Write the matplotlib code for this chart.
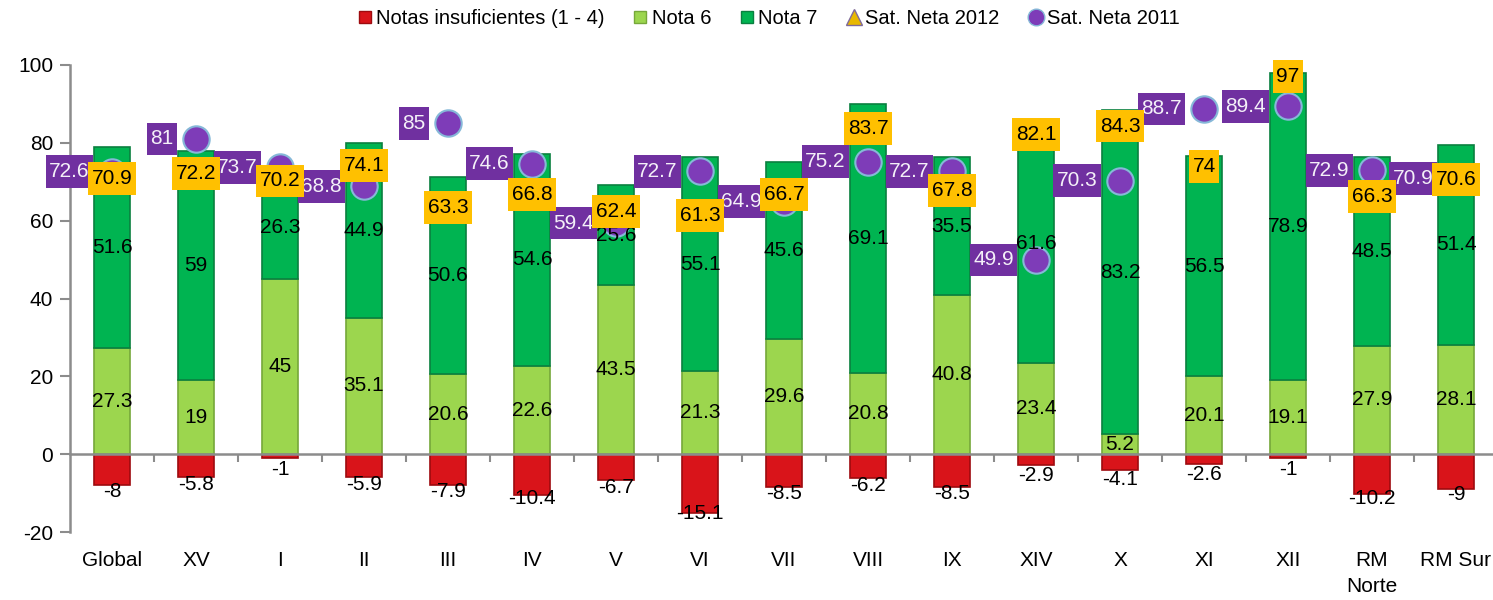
import matplotlib
matplotlib.use("Agg")
import matplotlib.pyplot as plt
from matplotlib import font_manager
from matplotlib.lines import Line2D
from matplotlib.path import Path
import numpy as np

# ---------------- data ----------------
categories = ["Global", "XV", "I", "II", "III", "IV", "V", "VI", "VII", "VIII",
              "IX", "XIV", "X", "XI", "XII", "RM\nNorte", "RM Sur"]
insuficientes = [-8, -5.8, -1, -5.9, -7.9, -10.4, -6.7, -15.1, -8.5, -6.2,
                 -8.5, -2.9, -4.1, -2.6, -1, -10.2, -9]
nota6 = [27.3, 19, 45, 35.1, 20.6, 22.6, 43.5, 21.3, 29.6, 20.8,
         40.8, 23.4, 5.2, 20.1, 19.1, 27.9, 28.1]
nota7 = [51.6, 59, 26.3, 44.9, 50.6, 54.6, 25.6, 55.1, 45.6, 69.1,
         35.5, 61.6, 83.2, 56.5, 78.9, 48.5, 51.4]
sat2012 = [70.9, 72.2, 70.2, 74.1, 63.3, 66.8, 62.4, 61.3, 66.7, 83.7,
           67.8, 82.1, 84.3, 74, 97, 66.3, 70.6]
sat2011 = [72.6, 81, 73.7, 68.8, 85, 74.6, 59.4, 72.7, 64.9, 75.2,
           72.7, 49.9, 70.3, 88.7, 89.4, 72.9, 70.9]
series_names = ["Notas insuficientes (1 - 4)", "Nota 6", "Nota 7",
                "Sat. Neta 2012", "Sat. Neta 2011"]

# ---------------- fonts ----------------
avail = {f.name for f in font_manager.fontManager.ttflist}
fam = [f for f in ["Liberation Sans Narrow", "Liberation Sans", "DejaVu Sans"] if f in avail]
plt.rcParams["font.family"] = fam
plt.rcParams["axes.unicode_minus"] = False

RED, RED_E = "#D9141A", "#9E0B0F"
LGREEN, LGREEN_E = "#9CD64E", "#76A83A"
GREEN, GREEN_E = "#00B451", "#0A8040"
YELLOW = "#FFC000"
PURPLE = "#7030A0"
MARK = "#7E3CB8"

FS = 15


def label_box(x0, y0, width, height, mutation_size):
    """Rectangular box with more vertical than horizontal padding."""
    px = 0.17 * mutation_size
    py = 0.33 * mutation_size
    x0, y0 = x0 - px, y0 - py
    x1, y1 = x0 + width + 2 * px, y0 + height + 2 * py
    return Path([(x0, y0), (x1, y0), (x1, y1), (x0, y1), (x0, y0)], closed=True)


fig = plt.figure(figsize=(14.93, 6.0), dpi=100)
ax = fig.add_axes([70 / 1493, 68 / 600, 1428 / 1493, 467 / 600])

x = np.arange(len(categories))
w = 0.44
n6 = np.array(nota6)
n7 = np.array(nota7)
ins = np.array(insuficientes)

ax.bar(x, ins, w, color=RED, edgecolor=RED_E, linewidth=1.2, zorder=2)
ax.bar(x, n6, w, color=LGREEN, edgecolor=LGREEN_E, linewidth=1.2, zorder=2)
ax.bar(x, n7, w, bottom=n6, color=GREEN, edgecolor=GREEN_E, linewidth=1.2, zorder=2)

# segment labels
for xi, v in zip(x, ins):
    ax.text(xi, 0.8 * v - 3.2, f"{v:g}", ha="center", va="center", fontsize=FS, zorder=5)
for xi, v in zip(x, n6):
    ax.text(xi, v / 2, f"{v:g}", ha="center", va="center", fontsize=FS, zorder=5)
for xi, b, v in zip(x, n6, n7):
    ax.text(xi, b + v / 2, f"{v:g}", ha="center", va="center", fontsize=FS, zorder=5)

# markers
ax.plot(x, sat2012, linestyle="none", marker="^", markersize=9,
        markerfacecolor="#E8B800", markeredgecolor="#7F6A9A", zorder=4, clip_on=False)
ax.plot(x, sat2011, linestyle="none", marker="o", markersize=19,
        markerfacecolor=MARK, markeredgecolor="#86B8D8", markeredgewidth=1.5,
        zorder=4, clip_on=False)

# Sat 2012 labels (yellow, centred)
for xi, v in zip(x, sat2012):
    ax.annotate(f"{v:g}", (xi, v), ha="center", va="center", fontsize=FS,
                color="black", zorder=7, annotation_clip=False,
                bbox=dict(boxstyle=label_box, fc=YELLOW, ec="none"))
# Sat 2011 labels (purple, left)
for xi, v in zip(x, sat2011):
    ax.annotate(f"{v:g}", (xi, v), xytext=(-16, 0), textcoords="offset points",
                ha="right", va="center", fontsize=FS, color="#F4F0F8", zorder=6,
                annotation_clip=False,
                bbox=dict(boxstyle=label_box, fc=PURPLE, ec="none"))

# axes styling
ax.set_ylim(-20, 100)
ax.set_xlim(-0.5, len(categories) - 0.5)
ax.set_yticks([-20, 0, 20, 40, 60, 80, 100])
ax.tick_params(axis="y", labelsize=FS, length=7, width=1.5, color="#8C8C8C", pad=5)
for s in ["top", "right"]:
    ax.spines[s].set_visible(False)
ax.spines["left"].set_color("#8C8C8C")
ax.spines["left"].set_linewidth(1.8)
ax.spines["bottom"].set_position(("data", 0))
ax.spines["bottom"].set_color("#8C8C8C")
ax.spines["bottom"].set_linewidth(1.8)
ax.spines["bottom"].set_zorder(3)
ax.set_xticks(x)
ax.set_xticklabels(categories, fontsize=FS, linespacing=1.45)
ax.tick_params(axis="x", which="major", length=0, pad=70)
ax.set_xticks(np.arange(len(categories) - 1) + 0.5, minor=True)
ax.tick_params(axis="x", which="minor", length=6, width=1.5, color="#8C8C8C")

# legend
handles = [
    Line2D([], [], linestyle="none", marker="s", markersize=9, markerfacecolor=RED, markeredgecolor=RED_E),
    Line2D([], [], linestyle="none", marker="s", markersize=9, markerfacecolor=LGREEN, markeredgecolor=LGREEN_E),
    Line2D([], [], linestyle="none", marker="s", markersize=9, markerfacecolor=GREEN, markeredgecolor=GREEN_E),
    Line2D([], [], linestyle="none", marker="^", markersize=12, markerfacecolor="#E8B800", markeredgecolor="#7F6A9A"),
    Line2D([], [], linestyle="none", marker="o", markersize=12, markerfacecolor=MARK, markeredgecolor="#86B8D8"),
]
fig.legend(handles, series_names, loc="center", bbox_to_anchor=(767 / 1493, 1 - 19 / 600),
           ncol=5, frameon=False, fontsize=14.5, handletextpad=0.05, columnspacing=1.3,
           handlelength=1.0)

fig.savefig("out.png", dpi=100)
